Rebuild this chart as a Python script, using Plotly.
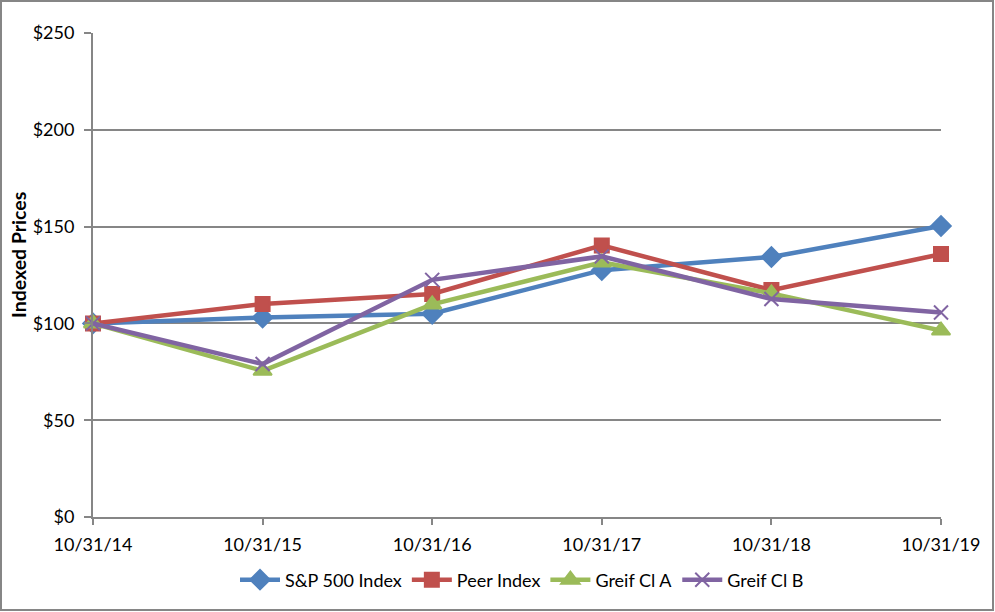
import plotly.graph_objects as go

dates = ["10/31/14", "10/31/15", "10/31/16", "10/31/17", "10/31/18", "10/31/19"]
sp500 = [100, 103, 105, 127.5, 134.3, 150.3]
peer = [100, 110, 115.2, 140.3, 117.2, 135.8]
greif_a = [100, 75.5, 109.8, 131.5, 115.5, 96.3]
greif_b = [100, 79, 122.5, 134.6, 112.6, 105.6]

series = [
    ("S&P 500 Index", sp500, "#4F81BD", "diamond", 15),
    ("Peer Index", peer, "#C0504D", "square", 14),
    ("Greif Cl A", greif_a, "#9BBB59", "triangle-up", 16),
    ("Greif Cl B", greif_b, "#8064A2", "x-thin", 14),
]

fig = go.Figure()
xs = list(range(len(dates)))
for name, vals, color, sym, size in series:
    fig.add_trace(go.Scatter(
        x=xs, y=vals, name=name, mode="lines+markers",
        line=dict(color=color, width=4.5),
        marker=dict(symbol=sym, size=size, color=color,
                    line=dict(color=color, width=2)),
        cliponaxis=False,
    ))

W, H = 995, 612
l, r, t, b = 93, 54, 33, 95
pw, ph = W - l - r, H - t - b

def px_x(x):
    return (x - l) / pw

def px_y(y):
    return (H - b - y) / ph

fig.update_layout(
    width=W, height=H,
    margin=dict(l=l, r=r, t=t, b=b, autoexpand=False),
    paper_bgcolor="white", plot_bgcolor="white",
    font=dict(family="Lato, Open Sans, sans-serif", size=18, color="black"),
    showlegend=True,
    legend=dict(orientation="h", x=px_x(522), xanchor="center", y=px_y(580), yanchor="middle",
                font=dict(size=18), itemwidth=40, tracegroupgap=0),
    shapes=[dict(type="rect", xref="paper", yref="paper",
                 x0=px_x(1), x1=px_x(993), y0=px_y(610), y1=px_y(1),
                 line=dict(color="#868686", width=2), layer="below")],
    annotations=[dict(text="<b>Indexed Prices</b>", xref="paper", yref="paper",
                      x=px_x(18), y=px_y(255), xanchor="center", yanchor="middle",
                      textangle=-90, showarrow=False, font=dict(size=19.5))],
)
fig.update_xaxes(
    tickmode="array", tickvals=xs, ticktext=dates,
    range=[0, 5], showgrid=False, showline=True, linecolor="#868686", linewidth=2,
    ticks="outside", ticklen=6, tickcolor="#868686", tickwidth=2,
    zeroline=False, tickfont=dict(size=18), ticklabelstandoff=4,
)
fig.update_yaxes(
    range=[0, 250], dtick=50, tickprefix="$", showgrid=True, gridcolor="#868686",
    gridwidth=2, showline=True, linecolor="#868686", linewidth=2,
    ticks="outside", ticklen=7, tickcolor="#868686", tickwidth=2, zeroline=False,
    tickfont=dict(size=18), ticklabelstandoff=6,
)

fig.write_html("out.html", config={"displayModeBar": False},
               post_script="document.body.style.margin='0';document.body.style.overflow='hidden';")
